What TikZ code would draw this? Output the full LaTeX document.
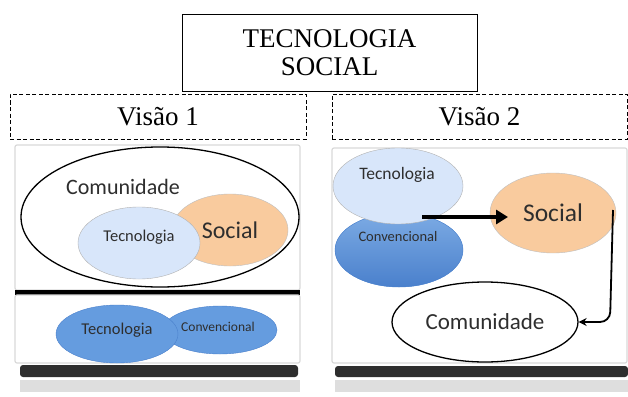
\documentclass[tikz,border=0pt]{standalone}
\usepackage{fontspec}
\setmainfont{Liberation Serif}
\newfontfamily\calibri{Carlito}
\usetikzlibrary{shapes.geometric}
\usetikzlibrary{positioning}
\usetikzlibrary{arrows.meta}
\definecolor{techlight}{HTML}{D8E6FA}
\definecolor{techmid}{HTML}{659CDF}
\definecolor{techdark}{HTML}{4A80CC}
\definecolor{socorange}{HTML}{F9CB9E}
\definecolor{labgray}{HTML}{2E2E2E}
\tikzset{
  titlebox/.style={draw,rectangle,align=center,minimum width=295pt,minimum height=77pt,
    font=\fontsize{27}{28}\selectfont},
  viewbox/.style={draw,rectangle,line width=0.9pt,dash pattern=on 4pt off 2.5pt,minimum height=45pt,
    font=\fontsize{27}{28}\selectfont},
  panel/.style={fill=white,draw=black!15,line width=1.2pt,rounded corners=2pt},
  shadowbar/.style={fill=black!82,rounded corners=3pt},
  mirrorbar/.style={fill=black!13},
  blob/.style={ellipse,inner sep=0pt,text=labgray},
  light/.style={blob,fill=techlight,draw=black!30},
  mid/.style={blob,fill=techmid,draw=techdark},
  orange/.style={blob,fill=socorange,draw=black!25},
  ring/.style={blob,fill=white,draw=black,line width=1.3pt},
  lab/.style={text=labgray,inner sep=0pt},
  bigarrow/.style={line width=3.5pt,-{Triangle[length=12pt,width=14pt]}},
  thinarrow/.style={line width=1.8pt,rounded corners=10pt,-{Stealth[length=8pt,width=8pt]}}
}
\begin{document}
\begin{tikzpicture}[x=1pt,y=-1pt]
	\useasboundingbox (0,0) rectangle (628,396);
	% headings
	\node[titlebox] (title) at (329.5,52.5) {TECNOLOGIA\\SOCIAL}; %
	\node[viewbox,minimum width=296pt] (view1) at (158,116.5) {Visão 1}; %
	\node[viewbox,minimum width=295pt] (view2) at (479.5,116.5) {Visão 2}; %

	% panels
	\draw[panel] (15,145) rectangle (300,290); %
	\fill[black] (15,290) rectangle (300,295); %
	\draw[panel] (15,295) rectangle (300,363); %
	\fill[shadowbar] (20,365) rectangle (298,377); %
	\fill[mirrorbar] (20,380) rectangle (300,392); %
	\draw[panel] (332,148) rectangle (627,363); %
	\fill[shadowbar] (335,366) rectangle (628,377); %
	\fill[mirrorbar] (335,380) rectangle (628,392); %

	% vision 1
	\node[ring,minimum width=278pt,minimum height=140pt] (com1) at (160,217) {}; %
	\node[lab,font=\calibri\fontsize{22}{22}\selectfont] (com1txt) at (123,187) {Comunidade}; %
	\node[orange,minimum width=116pt,minimum height=72pt,font=\calibri\fontsize{24}{24}\selectfont] (soc1) at (230,230) {Social}; %
	\node[light,minimum width=122pt,minimum height=72pt] (tec1) at (139,243) {}; %
	\node[lab,font=\calibri\fontsize{16.5}{17}\selectfont] (tec1txt) at (139,237) {Tecnologia}; %

	\node[mid,minimum width=114pt,minimum height=48pt] (conv1) at (220,330) {}; %
	\node[mid,minimum width=122pt,minimum height=58pt] (tecb1) at (117,334) {}; %
	\node[lab,font=\calibri\fontsize{16.5}{17}\selectfont] (tecb1txt) at (117,330) {Tecnologia}; %
	\node[lab,font=\calibri\fontsize{13.5}{14}\selectfont] (conv1txt) at (218,327) {Convencional}; %

	% vision 2
	\node[mid,top color=techmid!85!white,bottom color=techdark,minimum width=128pt,minimum height=74pt] (conv2) at (399,250) {}; %
	\node[lab,font=\calibri\fontsize{14.5}{15}\selectfont] (conv2txt) at (398,237) {Convencional}; %
	\node[light,minimum width=130pt,minimum height=76pt] (tec2) at (398,186) {}; %
	\node[lab,font=\calibri\fontsize{17.5}{18}\selectfont] (tec2txt) at (397,175) {Tecnologia}; %
	\node[orange,minimum width=126pt,minimum height=80pt,font=\calibri\fontsize{25.5}{26}\selectfont] (soc2) at (553,213) {Social}; %
	\node[ring,minimum width=186pt,minimum height=80pt,font=\calibri\fontsize{23}{23}\selectfont] (com2) at (485,322) {Comunidade}; %

	% edges
	\coordinate (a1s) at (422,217); %
	\coordinate (a1e) at (508,217); %
	\coordinate (a2s) at (613,210); %
	\draw[bigarrow] (a1s) -- (a1e); %
	\draw[thinarrow] (a2s) -- (610,322) -- (com2.east); %
\end{tikzpicture}
\end{document}
